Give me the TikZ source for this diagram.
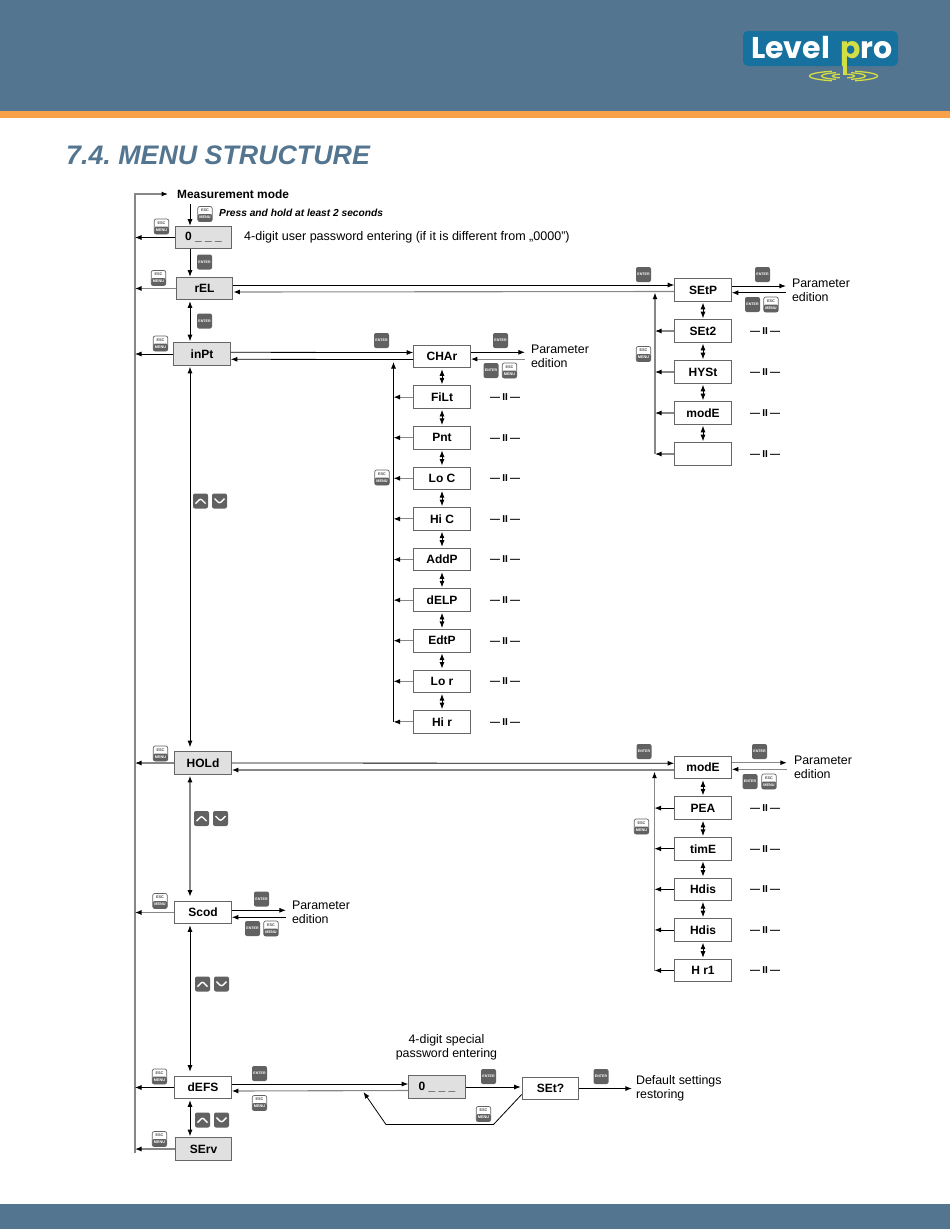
\documentclass[tikz,border=0pt]{standalone}
\usepackage{fontspec}
\setmainfont{Liberation Sans}
\newfontfamily\logofont{Poppins}
\frenchspacing
\definecolor{Header Blue}{HTML}{54758F}
\definecolor{Band Orange}{HTML}{F9A04B}
\definecolor{Logo Blue}{HTML}{16719F}
\definecolor{Logo Green}{HTML}{D3DE45}
\colorlet{cKey}{black!62}
\colorlet{cFaint}{black!47}
\colorlet{cPanel}{black!12}
\usetikzlibrary{positioning, arrows.meta}
\tikzset{
	node distance = 17pt,
	>={Latex[length=6.5pt,width=5pt,color=black]},
	box/.style={
		draw=black!60,
		line width=.9pt,
		minimum width=56.8pt,
		minimum height=22.7pt,
		inner sep=0pt,
		font=\fontsize{12}{14}\selectfont\bfseries
	},
	panel/.style={box, fill=cPanel},
	edge/.style={
		->,
		line width=.8pt
	},
	faint/.style={
		->,
		line width=1.1pt,
		color=cFaint
	},
	step arrow/.style={
		<->,
		line width=.8pt,
		shorten >=1pt,
		shorten <=1pt
	},
	long arrow/.style={
		<->,
		line width=.9pt,
		shorten >=1pt,
		shorten <=4pt
	},
	label/.style={
		inner sep=0pt,
		align=left,
		font=\fontsize{12.4}{13.6}\selectfont
	},
	ditto/.style={
		inner sep=0pt,
		font=\fontsize{10}{14}\selectfont\bfseries
	},
	enterkey/.style={
		fill=cKey,
		rounded corners=2pt,
		minimum size=15pt,
		inner sep=0pt,
		text=white,
		font=\fontsize{3.6}{4}\selectfont\bfseries
	},
	esckey/.style={
		draw=cKey,
		line width=.7pt,
		fill=white,
		rounded corners=2pt,
		minimum width=14.5pt,
		minimum height=15pt,
		inner sep=0pt,
		align=center,
		font=\fontsize{3.8}{7}\selectfont\bfseries,
		path picture={
			\fill[cKey] (path picture bounding box.west) rectangle (path picture bounding box.south east);
		}
	},
	arrowkey/.style={
		fill=cKey,
		rounded corners=2pt,
		minimum size=15pt,
		inner sep=0pt
	},
	upkey/.style={
		arrowkey,
		path picture={
			\draw[white, line width=1.4pt] ([shift={(-5pt,-2.5pt)}]path picture bounding box.center) -- ([shift={(0pt,2.5pt)}]path picture bounding box.center) -- ([shift={(5pt,-2.5pt)}]path picture bounding box.center);
		}
	},
	downkey/.style={
		arrowkey,
		path picture={
			\draw[white, line width=1.4pt] ([shift={(-5pt,2.5pt)}]path picture bounding box.center) -- ([shift={(0pt,-2.5pt)}]path picture bounding box.center) -- ([shift={(5pt,2.5pt)}]path picture bounding box.center);
		}
	}
}
\newcommand{\EscText}{\textcolor{black!70}{ESC}\\\textcolor{white}{MENU}}
\newcommand{\DittoText}{—\kern2.3ptII\kern2.3pt—}

\begin{document}
\begin{tikzpicture}[x=1pt, y=-1pt]
\useasboundingbox (0,0) rectangle (950,1229);

% ---
% Page frame and logo
% ---
\fill[Header Blue] (0,0) rectangle (950,110.5);
\fill[Band Orange] (0,110.5) rectangle (950,118);
\fill[Header Blue] (0,1204) rectangle (950,1229);
\fill[Logo Blue, rounded corners=5pt] (743,31) rectangle (898,66);
\node[anchor=base west, inner sep=0pt, text=white, font=\fontsize{30}{30}\logofont\bfseries] (logoLevel) at (751,58) {Level};
\node[anchor=base west, inner sep=0pt, text=white, font=\fontsize{30}{30}\logofont\bfseries] (logoPro) at (840,58) {\textcolor{Logo Green}{p}ro};
\fill[Logo Green] (842.5,60) rectangle (847,75);
\foreach \rx/\ry in {34/5, 22/3.5, 11/2}{
	\draw[Logo Green, line width=1.3pt] (843.5,76) ++(70:\rx pt and \ry pt) arc (70:-70:\rx pt and \ry pt);
	\draw[Logo Green, line width=1.3pt] (843.5,76) ++(110:\rx pt and \ry pt) arc (110:250:\rx pt and \ry pt);
}
\node[anchor=base west, inner sep=0pt, text=Header Blue, font=\fontsize{26.8}{28}\selectfont\bfseries\itshape] (title) at (66,164) {7.4. MENU STRUCTURE};

% ---
% Main column
% ---
\coordinate (spine) at (190,0);
\coordinate (busTop) at (135,194);
\coordinate (busBot) at (135,1153);

\node[anchor=west, inner sep=0pt, font=\fontsize{11.9}{14}\selectfont\bfseries] (meas) at (177,194) {Measurement mode};
\node[panel] at (203.5,237.5) (pass) {0 \_ \_ \_};
\node[panel] at (204.5,288.5) (rEL) {rEL};
\node[panel] at (202,354) (inPt) {inPt};
\node[panel] at (203,763) (HOLd) {HOLd};
\node[box] at (203,912.5) (Scod) {Scod};
\node[box] at (203,1087.5) (dEFS) {dEFS};
\node[panel] at (203.5,1149) (SErv) {SErv};

\node[anchor=west, inner sep=0pt, font=\fontsize{10.2}{12}\selectfont\bfseries\itshape] (hold) at (219,213) {Press and hold at least 2 seconds};
\node[anchor=west, label, font=\fontsize{12.55}{14}\selectfont] (passText) at (244,237) {4-digit user password entering (if it is different from „0000”)};

% ---
% SEtP menu
% ---
\node[box] at (703,290) (SEtP) {SEtP};
\node[box, below=17.4pt of SEtP] (SEt2) {SEt2};
\node[box, below=17.4pt of SEt2] (HYSt) {HYSt};
\node[box, below=17.4pt of HYSt] (modE) {modE};
\node[box, below=17.4pt of modE] (blank) {};

% ---
% CHAr menu
% ---
\node[box] at (442,356.5) (CHAr) {CHAr};
\node[box, below=of CHAr] (FiLt) {FiLt};
\node[box, below=of FiLt] (Pnt) {Pnt};
\node[box, below=of Pnt] (LoC) {Lo C};
\node[box, below=of LoC] (HiC) {Hi C};
\node[box, below=of HiC] (AddP) {AddP};
\node[box, below=of AddP] (dELP) {dELP};
\node[box, below=of dELP] (EdtP) {EdtP};
\node[box, below=of EdtP] (Lor) {Lo r};
\node[box, below=of Lor] (Hir) {Hi r};

% ---
% HOLd menu
% ---
\node[box] at (703,767.5) (modEh) {modE};
\node[box, below=of modEh] (PEA) {PEA};
\node[box, below=of PEA] (timE) {timE};
\node[box, below=of timE] (HdisA) {Hdis};
\node[box, below=of HdisA] (HdisB) {Hdis};
\node[box, below=of HdisB] (Hrone) {H r1};

% ---
% Default settings row
% ---
\node[panel] at (437,1087) (passB) {0 \_ \_ \_};
\node[box] at (550.5,1088.5) (SEtQ) {SEt?};
\node[label, right=56.5pt of SEtQ] (restore) {Default settings\\restoring};
\node[label, align=center] at (446.5,1047.5) (special) {4-digit special\\password entering};
\coordinate (retA) at (493.5,1124.5);
\coordinate (retB) at (386,1124.5);
\coordinate (retC) at (363.5,1092);

% ---
% Parameter texts
% ---
\node[label, right=60pt of SEtP] (paramSEtP) {Parameter\\edition};
\node[label, right=60pt of CHAr] (paramCHAr) {Parameter\\edition};
\node[label, right=62pt of modEh] (paramHOLd) {Parameter\\edition};
\node[label, right=60pt of Scod] (paramScod) {Parameter\\edition};

\foreach \item/\name in {SEt2/SEt2, HYSt/HYSt, modE/modE, blank/blank, PEA/PEA, timE/timE, HdisA/HdisA, HdisB/HdisB, Hrone/Hrone}{
	\node[ditto, right=18pt of \item] (ditto\name) {\DittoText};
}
\foreach \item/\name in {FiLt/FiLt, Pnt/Pnt, LoC/LoC, HiC/HiC, AddP/AddP, dELP/dELP, EdtP/EdtP, Lor/Lor, Hir/Hir}{
	\node[ditto, right=19pt of \item] (ditto\name) {\DittoText};
}

% ---
% Keys
% ---
\foreach \x/\y/\name in {205/214/a, 161.5/226.5/b, 158.5/278/c, 160.5/343.5/d, 771/304.5/e, 643.5/354/f, 509.5/370.5/g, 382/477.5/h, 160.5/753.5/i, 769/781.5/j, 641.5/826.5/k, 160/901/l, 271/928.5/m, 159.5/1076.5/n, 259.5/1103/o, 159.5/1139/p, 483.5/1114/q}{
	\node[esckey] at (\x,\y) (esc\name) {\EscText};
}
\foreach \x/\y/\name in {204.5/262/a, 204.5/321/b, 381.5/340.5/c, 643.5/274.5/d, 762.5/274.5/e, 752.5/304.5/f, 500.5/340.5/g, 491/370.5/h, 644/751.5/i, 759.5/751.5/j, 750/781.5/k, 261.5/899/l, 252.5/928.5/m, 259.5/1073.5/n, 488.5/1076.5/o, 601/1076.5/p}{
	\node[enterkey] at (\x,\y) (enter\name) {ENTER};
}
\foreach \x/\y/\name in {200.5/501/a, 201.5/818.5/b, 202.5/984/c, 202.5/1120/d}{
	\node[upkey] at (\x,\y) (up\name) {};
}
\foreach \x/\y/\name in {219.5/501/a, 220.5/818.5/b, 221.5/984/c, 221.5/1120/d}{
	\node[downkey] at (\x,\y) (down\name) {};
}

% ---
% Connectors, main column
% ---
\draw[faint, shorten >=9pt] (busBot) -- (busTop) -- (meas);
\draw[edge, shorten <=10pt] (spine |- meas) -- (spine |- pass.north);
\draw[edge] (spine |- pass.south) -- (spine |- rEL.north);
\draw[step arrow] (spine |- rEL.south) -- (spine |- inPt.north);
\draw[long arrow] (spine |- HOLd.north) -- (spine |- inPt.south);
\draw[long arrow, cFaint, line width=1.1pt] (spine |- Scod.north) -- (spine |- HOLd.south);
\draw[long arrow] (spine |- dEFS.north) -- (spine |- Scod.south);
\draw[step arrow] (spine |- dEFS.south) -- (spine |- SErv.north);

\draw[edge] (pass) -- (pass -| busTop);
\draw[faint] (rEL) -- (rEL -| busTop);
\draw[edge] (inPt) -- (inPt -| busTop);
\draw[faint] (HOLd) -- (HOLd -| busTop);
\draw[faint] (Scod) -- (Scod -| busTop);
\draw[edge] (dEFS) -- (dEFS -| busTop);
\draw[faint] (SErv) -- (SErv -| busTop);

% ---
% Connectors, sub menus
% ---
\draw[edge] ([yshift=3.5pt]rEL.east) -- ([yshift=5pt]SEtP.west);
\draw[faint] ([yshift=-1.5pt]SEtP.west) -- ([yshift=-3.5pt]rEL.east);
\draw[edge] ([yshift=1.7pt]inPt.east) -- ([yshift=4pt]CHAr.west);
\draw[edge] ([yshift=-3pt]CHAr.west) -- ([yshift=-5.3pt]inPt.east);
\draw[edge] (HOLd.east) -- ([yshift=4.2pt]modEh.west);
\draw[faint] ([yshift=-2.5pt]modEh.west) -- ([yshift=-7pt]HOLd.east);

\draw[edge, shorten >=6pt] ([yshift=4pt]SEtP.east) -- ([yshift=4pt]paramSEtP.west);
\draw[edge, shorten <=6pt] ([yshift=-2.7pt]paramSEtP.west) -- ([yshift=-2.7pt]SEtP.east);
\draw[edge, shorten >=6pt] ([yshift=4.2pt]CHAr.east) -- ([yshift=4.2pt]paramCHAr.west);
\draw[faint, shorten <=6pt] ([yshift=-2.6pt]paramCHAr.west) -- ([yshift=-2.6pt]CHAr.east);
\draw[faint, shorten >=7pt] ([yshift=4.8pt]modEh.east) -- ([yshift=4.8pt]paramHOLd.west);
\draw[faint, shorten <=7pt] ([yshift=-1.8pt]paramHOLd.west) -- ([yshift=-1.8pt]modEh.east);
\draw[edge, shorten >=6pt] ([yshift=2.2pt]Scod.east) -- ([yshift=2.2pt]paramScod.west);
\draw[edge, shorten <=6pt] ([yshift=-4.8pt]paramScod.west) -- ([yshift=-4.8pt]Scod.east);

\foreach \a/\b in {SEtP/SEt2, SEt2/HYSt, HYSt/modE, modE/blank, CHAr/FiLt, FiLt/Pnt, Pnt/LoC, LoC/HiC, HiC/AddP, AddP/dELP, dELP/EdtP, EdtP/Lor, Lor/Hir, modEh/PEA, PEA/timE, timE/HdisA, HdisA/HdisB, HdisB/Hrone}{
	\draw[step arrow] (\a) -- (\b);
}

\coordinate (busA) at ([yshift=-2.7pt]SEtP.west -| 655,0);
\draw[faint] (blank.west -| busA) -- (busA);
\foreach \item in {SEt2, HYSt, modE, blank}{
	\draw[faint] (\item) -- (\item -| busA);
}
\coordinate (busB) at ([yshift=-5.5pt]CHAr.west -| 393.5,0);
\draw[edge] (Hir.west -| busB) -- (busB);
\foreach \item in {FiLt, Pnt, LoC, HiC, AddP, dELP, EdtP, Lor, Hir}{
	\draw[faint] (\item) -- (\item -| busB);
}
\coordinate (busC) at ([yshift=-4.2pt]modEh.west -| 654.5,0);
\draw[faint] (Hrone.west -| busC) -- (busC);
\foreach \item in {PEA, timE, HdisA, HdisB, Hrone}{
	\draw[edge] (\item) -- (\item -| busC);
}

% ---
% Connectors, default settings
% ---
\draw[edge] ([yshift=3.5pt]dEFS.east) -- ([yshift=3pt]passB.west);
\draw[faint] ([yshift=-3.5pt]passB.west) -- ([yshift=-3.5pt]dEFS.east);
\draw[edge, shorten >=1pt] (passB) -- (SEtQ.west |- passB);
\draw[edge, shorten >=4pt] (SEtQ) -- (restore);
\draw[edge] ([yshift=-6pt]SEtQ.west) -- (retA) -- (retB) -- (retC);

\end{tikzpicture}
\end{document}
